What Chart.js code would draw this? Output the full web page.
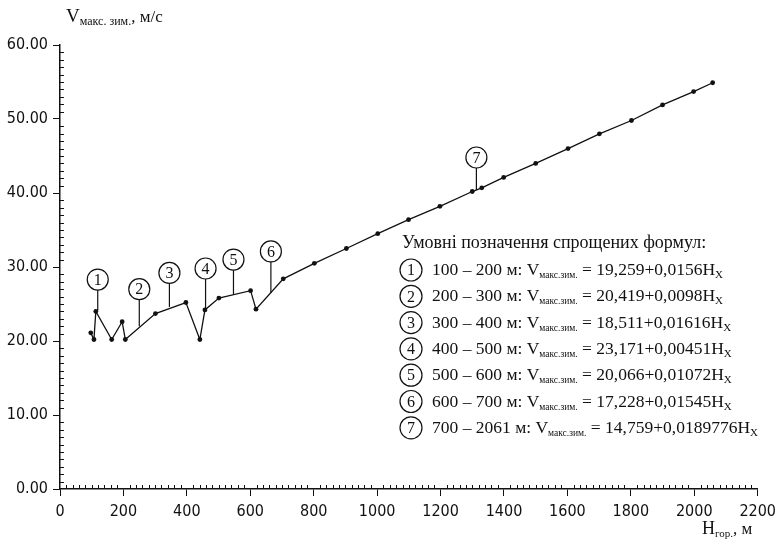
<!DOCTYPE html>
<html lang="uk">
<head>
<meta charset="UTF-8">
<title>Vмакс.зим. від Hгор.</title>
<script src="https://cdn.jsdelivr.net/npm/chart.js"></script>
<style>
  body { margin: 0; background: #fff; }
  canvas { display: block; }
</style>
</head>
<body>
<canvas id="grafik" width="782" height="545"></canvas>
<script>
// висота над рівнем моря, м
const vysoty = [97, 107, 113, 163, 196, 206, 301, 397, 441, 457, 501, 601, 618, 704, 802, 903, 1002, 1099, 1198, 1300, 1330, 1399, 1500, 1602, 1701, 1802, 1900, 1998, 2058];
// максимальна зимова швидкість вітру, м/с
const shvydkosti = [21.1, 20.2, 24.0, 20.2, 22.6, 20.2, 23.7, 25.2, 20.2, 24.2, 25.8, 26.8, 24.3, 28.4, 30.5, 32.5, 34.5, 36.4, 38.2, 40.2, 40.7, 42.1, 44.0, 46.0, 48.0, 49.8, 51.9, 53.7, 54.9];

// позначки-виноски на графіку
const vynoskyNomer = ['1', '2', '3', '4', '5', '6', '7'];
const vynoskyX = [119, 250, 345, 459, 547, 665, 1313];
const vynoskyY = [28.3, 27.0, 29.2, 29.8, 31.0, 32.1, 44.8];
const vynoskyKinec = [24.1, 22.0, 24.6, 24.3, 26.3, 26.5, 40.4];

// умовні позначення
const legendaZagolovok = 'Умовні позначення спрощених формул:';
const legendaDiapazon = ['100 – 200 м: V', '200 – 300 м: V', '300 – 400 м: V', '400 – 500 м: V', '500 – 600 м: V', '600 – 700 м: V', '700 – 2061 м: V'];
const legendaFormula = [' = 19,259+0,0156H', ' = 20,419+0,0098H', ' = 18,511+0,01616H', ' = 23,171+0,00451H', ' = 20,066+0,01072H', ' = 17,228+0,01545H', ' = 14,759+0,0189776H'];

const serif = '"Liberation Serif", "Times New Roman", serif';
const vuzkyi = '"Liberation Sans Narrow", "DejaVu Sans Condensed", "Arial Narrow", sans-serif';

function pysaty(ctx, x, y, chastyny) {
    for (const c of chastyny) {
        ctx.font = c.font;
        ctx.fillText(c.t, x, y + (c.dy || 0));
        x += ctx.measureText(c.t).width;
    }
    return x;
}

function kolo(ctx, x, y, nomer, r) {
    ctx.beginPath();
    ctx.arc(x, y, r, 0, Math.PI * 2);
    ctx.fillStyle = '#fff';
    ctx.fill();
    ctx.stroke();
    ctx.fillStyle = '#111';
    ctx.font = '16px ' + serif;
    ctx.textAlign = 'center';
    ctx.textBaseline = 'middle';
    ctx.fillText(nomer, x, y + 1);
    ctx.textAlign = 'left';
    ctx.textBaseline = 'alphabetic';
}

const dodatky = {
    id: 'dodatky',
    afterDraw(chart) {
        const ctx = chart.ctx;
        const sx = chart.scales.x;
        const sy = chart.scales.y;
        const niz = sy.getPixelForValue(0);
        const liv = sx.getPixelForValue(0);
        ctx.save();
        ctx.strokeStyle = '#111';
        ctx.lineWidth = 1;

        // дрібні поділки
        ctx.beginPath();
        for (let v = 20; v < 2200; v += 20) {
            if (v % 200 === 0) continue;
            const px = Math.round(sx.getPixelForValue(v)) + 0.5;
            ctx.moveTo(px, niz);
            ctx.lineTo(px, niz - 4);
        }
        for (let v = 1; v < 60; v++) {
            if (v % 10 === 0) continue;
            const py = Math.round(sy.getPixelForValue(v)) + 0.5;
            ctx.moveTo(liv, py);
            ctx.lineTo(liv + 4, py);
        }
        ctx.stroke();

        // виноски
        ctx.lineWidth = 1.2;
        vynoskyNomer.forEach((n, i) => {
            const px = sx.getPixelForValue(vynoskyX[i]);
            const py = sy.getPixelForValue(vynoskyY[i]);
            ctx.beginPath();
            ctx.moveTo(px, py + 10.5);
            ctx.lineTo(px, sy.getPixelForValue(vynoskyKinec[i]));
            ctx.stroke();
            kolo(ctx, px, py, n, 10.5);
        });

        // підписи осей
        ctx.fillStyle = '#111';
        pysaty(ctx, 66, 22, [
            { t: 'V', font: '19px ' + serif },
            { t: 'макс. зим.', font: '12px ' + serif, dy: 3 },
            { t: ', м/с', font: '17px ' + serif }
        ]);
        pysaty(ctx, 702, 534, [
            { t: 'H', font: '18px ' + serif },
            { t: 'гор.', font: '11px ' + serif, dy: 3 },
            { t: ', м', font: '17px ' + serif }
        ]);

        // умовні позначення
        ctx.font = '18px ' + serif;
        ctx.fillText(legendaZagolovok, 402, 248);
        legendaDiapazon.forEach((d, i) => {
            const y = 270 + i * 26.3;
            kolo(ctx, 411, y, vynoskyNomer[i], 11);
            ctx.fillStyle = '#111';
            pysaty(ctx, 432, y + 5, [
                { t: d, font: '17.5px ' + serif },
                { t: 'макс.зим.', font: '9.5px ' + serif, dy: 3 },
                { t: legendaFormula[i], font: '17.5px ' + serif },
                { t: 'X', font: '11px ' + serif, dy: 3 }
            ]);
        });
        ctx.restore();
    }
};

new Chart(document.getElementById('grafik'), {
    type: 'scatter',
    data: {
        datasets: [{
            data: vysoty.map((h, i) => ({ x: h, y: shvydkosti[i] })),
            showLine: true,
            borderColor: '#111',
            borderWidth: 1.3,
            backgroundColor: '#111',
            pointRadius: 2.4,
            pointBorderWidth: 0,
            tension: 0
        }]
    },
    options: {
        responsive: false,
        animation: false,
        layout: { padding: { top: 45, right: 20, left: 0, bottom: 0 } },
        plugins: { legend: { display: false }, tooltip: { enabled: false } },
        scales: {
            x: {
                type: 'linear',
                min: 0,
                max: 2200,
                afterFit: s => { s.height = 56; },
                border: { display: true, color: '#111', width: 1.5 },
                grid: { drawOnChartArea: false, drawTicks: true, tickLength: 7, color: '#111', tickWidth: 1 },
                ticks: {
                    stepSize: 200,
                    autoSkip: false,
                    maxRotation: 0,
                    padding: 6,
                    color: '#111',
                    font: { family: vuzkyi, size: 16 },
                    callback: v => String(v)
                }
            },
            y: {
                min: 0,
                max: 60,
                afterFit: s => { s.width = 60; },
                border: { display: true, color: '#111', width: 1.5 },
                grid: { drawOnChartArea: false, drawTicks: true, tickLength: 7, color: '#111', tickWidth: 1 },
                ticks: {
                    stepSize: 10,
                    padding: 5,
                    color: '#111',
                    font: { family: vuzkyi, size: 16 },
                    callback: v => v.toFixed(2)
                }
            }
        }
    },
    plugins: [dodatky]
});
</script>
</body>
</html>
